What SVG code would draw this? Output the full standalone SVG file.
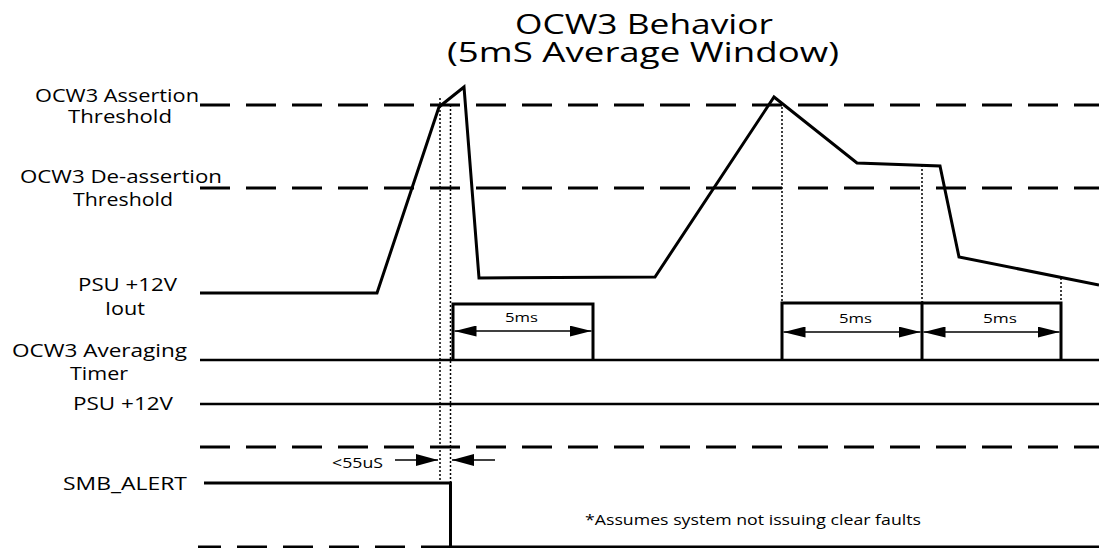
<svg xmlns="http://www.w3.org/2000/svg" width="1099" height="548" viewBox="0 0 1099 548">
<style>
text{font-family:"Open Sans","Noto Sans","Liberation Sans",sans-serif;fill:#000}
.lbl{font-size:19px}
.ttl{font-size:27px}
.sm{font-size:12px}
.note{font-size:15px}
.dash{stroke:#000;stroke-width:3;stroke-dasharray:30 16;fill:none}
.sig{stroke:#000;stroke-width:3;fill:none;stroke-linejoin:miter}
.base{stroke:#000;stroke-width:2.5;fill:none}
.dot{stroke:#000;stroke-width:1.5;stroke-dasharray:2 2;fill:none}
.arr{stroke:#000;stroke-width:1.5;fill:none}
</style>
<defs>
<marker id="ah" viewBox="0 0 22 11" refX="22" refY="5.5" markerWidth="22" markerHeight="11" markerUnits="userSpaceOnUse" orient="auto-start-reverse">
<path d="M0,0 L22,5.5 L0,11 z" fill="#000"/>
</marker>
<marker id="ah2" viewBox="0 0 22 12" refX="22" refY="6" markerWidth="22" markerHeight="12" markerUnits="userSpaceOnUse" orient="auto">
<path d="M0,0 L22,6 L0,12 z" fill="#000"/>
</marker>
</defs>
<rect width="1099" height="548" fill="#fff"/>

<g id="title">
<text class="ttl" x="515" y="34" textLength="258" lengthAdjust="spacingAndGlyphs">OCW3 Behavior</text>
<text class="ttl" x="447" y="62" textLength="392" lengthAdjust="spacingAndGlyphs">(5mS Average Window)</text>
</g>

<g id="labels">
<text class="lbl" x="35" y="102" textLength="164" lengthAdjust="spacingAndGlyphs">OCW3 Assertion</text>
<text class="lbl" x="68" y="123" textLength="104" lengthAdjust="spacingAndGlyphs">Threshold</text>
<text class="lbl" x="20" y="183" textLength="202" lengthAdjust="spacingAndGlyphs">OCW3 De-assertion</text>
<text class="lbl" x="73" y="206" textLength="100" lengthAdjust="spacingAndGlyphs">Threshold</text>
<text class="lbl" x="78" y="291" textLength="99" lengthAdjust="spacingAndGlyphs">PSU +12V</text>
<text class="lbl" x="105" y="315" textLength="40" lengthAdjust="spacingAndGlyphs">Iout</text>
<text class="lbl" x="12" y="357" textLength="175" lengthAdjust="spacingAndGlyphs">OCW3 Averaging</text>
<text class="lbl" x="70" y="380" textLength="58" lengthAdjust="spacingAndGlyphs">Timer</text>
<text class="lbl" x="73" y="410" textLength="100" lengthAdjust="spacingAndGlyphs">PSU +12V</text>
<text class="lbl" x="63" y="490" textLength="124" lengthAdjust="spacingAndGlyphs">SMB_ALERT</text>
</g>

<g id="thresholds">
<line class="dash" x1="200" y1="105" x2="1099" y2="105"/>
<line class="dash" x1="200" y1="188" x2="1099" y2="188"/>
<line class="dash" x1="200" y1="447" x2="1099" y2="447"/>
<line class="dash" x1="198" y1="547" x2="452" y2="547" stroke-dashoffset="7"/>
</g>

<g id="iout">
<polyline class="sig" points="200,293 377,293 439,107 464,87 479,278 655,277 774,97 857,163 940,166 959,257 1099,285"/>
</g>

<g id="markers">
<line class="dot" x1="440" y1="98" x2="440" y2="483"/>
<line class="dot" x1="450.5" y1="105" x2="450.5" y2="483"/>
<line class="dot" x1="782" y1="103" x2="782" y2="303"/>
<line class="dot" x1="922" y1="165" x2="922" y2="303"/>
<line class="dot" x1="1061" y1="278" x2="1061" y2="303"/>
</g>

<g id="timer">
<line class="base" x1="200" y1="360" x2="1099" y2="360"/>
<path class="sig" d="M453,360 V304 H593 V360"/>
<path class="sig" d="M782,360 V303 H922 V360"/>
<path class="sig" d="M922,303 H1061 V360"/>
<line class="arr" x1="454.5" y1="331" x2="591.5" y2="331" marker-start="url(#ah)" marker-end="url(#ah)"/>
<line class="arr" x1="783.5" y1="332" x2="920.5" y2="332" marker-start="url(#ah)" marker-end="url(#ah)"/>
<line class="arr" x1="923.5" y1="332" x2="1059.5" y2="332" marker-start="url(#ah)" marker-end="url(#ah)"/>
<text class="sm" x="505" y="322" textLength="33" lengthAdjust="spacingAndGlyphs">5ms</text>
<text class="sm" x="839" y="323" textLength="33" lengthAdjust="spacingAndGlyphs">5ms</text>
<text class="sm" x="983" y="323" textLength="34" lengthAdjust="spacingAndGlyphs">5ms</text>
</g>

<g id="psu">
<line class="base" x1="200" y1="404" x2="1099" y2="404"/>
</g>

<g id="alert">
<path class="sig" d="M204,483 H450.5 V547 H1099"/>
</g>

<g id="connectors">
<line class="arr" x1="395" y1="460" x2="438" y2="460" marker-end="url(#ah2)"/>
<line class="arr" x1="495" y1="460" x2="452" y2="460" marker-end="url(#ah2)"/>
</g>

<g id="annotations">
<text style="font-size:14px" x="332" y="468" textLength="51" lengthAdjust="spacingAndGlyphs">&lt;55uS</text>
<text class="note" x="585" y="525" textLength="336" lengthAdjust="spacingAndGlyphs">*Assumes system not issuing clear faults</text>
</g>
</svg>
